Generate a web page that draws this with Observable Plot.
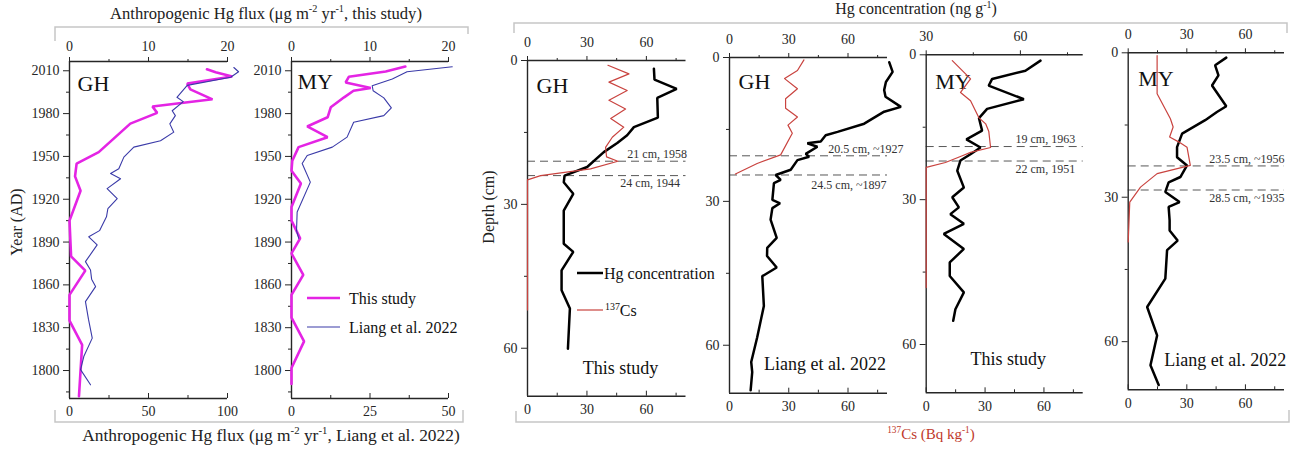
<!DOCTYPE html>
<html><head><meta charset="utf-8">
<script src="https://cdn.jsdelivr.net/npm/d3@7"></script>
<script src="https://cdn.jsdelivr.net/npm/@observablehq/plot@0.6"></script>
<style>
body{margin:0;background:#fff;}
#chart{position:relative;width:1307px;height:452px;overflow:hidden;}
#chart svg{position:absolute;left:0;top:0;overflow:visible;}
</style></head><body><div id="chart"></div>
<script>
// ---------- DATA ----------
// Anthropogenic Hg flux vs year (AD)
const ghThisYear = [2011, 2009, 2006, 2001, 1997, 1990, 1985, 1980.5, 1973, 1953, 1945, 1936, 1926, 1905, 1880, 1870, 1853, 1835, 1818, 1782];
const ghThisFlux = [17.4, 18.5, 20.6, 14.9, 15.3, 18.1, 10.5, 11.1, 7.7, 3.7, 0.9, 0.7, 1.4, 0.0, 0.2, 2.0, 0.0, 0.0, 1.6, 1.2];
const ghLiangYear = [2012.3, 2009.3, 2005.5, 1999.8, 1991.4, 1988.4, 1982, 1978.6, 1972.8, 1967, 1961, 1956.5, 1949.5, 1941.4, 1938, 1934.4, 1927.4, 1920.5, 1913.5, 1907.7, 1898, 1893.7, 1888, 1876.3, 1870.4, 1864, 1858.8, 1848.3, 1836, 1822.7, 1810, 1800.6, 1790];
const ghLiangFlux = [104, 107, 102, 74.5, 68, 72, 65, 67, 63.5, 66, 57.6, 40.7, 34.4, 31.2, 26, 32.3, 23.8, 30.2, 24.3, 23.4, 19, 12.2, 17.5, 10.1, 13.3, 14, 16.5, 10.1, 12, 14.4, 9.1, 7, 13.3];
const myThisYear = [2013, 2009.5, 2005.8, 2001.8, 1997.9, 1996, 1991.4, 1984.4, 1977.4, 1971, 1963.5, 1956.5, 1947, 1940, 1931, 1914.6, 1905, 1892.6, 1882, 1867, 1853, 1837, 1820.4, 1801.8, 1790.6];
const myThisFlux = [14.5, 12.0, 7.3, 6.9, 10.1, 7.9, 6.7, 5.0, 4.6, 2.0, 4.6, 0.9, 0.1, 0, 1.2, 0, 0, 1.1, 0, 1.5, 0, 0, 1.6, 0, 0];
const myLiangYear = [2012.8, 2009.3, 2004.2, 1999.5, 1996, 1991, 1984, 1978.6, 1974, 1963.5, 1956.5, 1950.7, 1945, 1932, 1911, 1898, 1892.6];
const myLiangFlux = [51.2, 36.8, 32.1, 25.7, 26, 29.4, 31.8, 29.4, 19.8, 17.7, 13, 5, 3.4, 6.0, 1.8, 1.6, 2.3];

// Hg concentration (ng/g) and 137Cs (Bq/kg) vs depth (cm)
const ghThisHgDepth = [1.7, 4.0, 5.9, 7.8, 11.9, 13.9, 15.6, 17.2, 19.1, 22.2, 24.0, 25.4, 27.8, 31.3, 38.2, 39.9, 43.75, 47.9, 51.7, 60.1];
const ghThisHg = [63.8, 64.1, 75.3, 65.5, 65.8, 53.7, 50.3, 45.3, 38.5, 30.1, 18.7, 18.3, 23.1, 18.3, 18.3, 23.1, 17.2, 17.2, 21.4, 20.4];
const ghThisCsDepth = [1.0, 2.8, 4.5, 6.25, 8.3, 10.1, 12.1, 13.9, 16, 18.1, 20.1, 21, 22.6, 24, 24.9, 52];
const ghThisCs = [40.6, 51.2, 41.1, 50.3, 41.1, 49.5, 42, 48.6, 42.8, 39.4, 39.9, 45.6, 31.8, 6.6, 0, 0];

const ghLiangHgDepth = [1.0, 3.0, 5.1, 6.8, 8.2, 10.3, 11.3, 13.8, 15.5, 16.2, 17.5, 17.9, 18.6, 20.1, 20.7, 21.4, 23.4, 24.5, 25.5, 26.2, 29.7, 30.4, 31.4, 33.8, 37.6, 39.7, 41.4, 43.8, 45.6, 51.8, 58.4, 63.5, 65.6, 69.4];
const ghLiangHg = [80.9, 82.6, 79.2, 78.3, 79, 86.8, 78.3, 68.2, 54.7, 48.7, 46.2, 39.4, 44.5, 38.6, 40.3, 34.4, 31, 23.4, 25.9, 22.5, 21.7, 25.6, 21.7, 20.8, 23.9, 19.1, 19, 23.9, 16.6, 17.4, 14, 11, 11.5, 10.7];
const ghLiangCsDepth = [0.5, 2.7, 4.4, 6.5, 8.6, 10.6, 12.4, 14.1, 15.8, 20.3, 22.1, 24.3];
const ghLiangCs = [37.7, 34.4, 27.9, 34.4, 28.4, 28.4, 34.4, 29.6, 31.8, 25.9, 14, 3.0];

const myThisHgDepth = [1.2, 3.3, 5.0, 6.4, 9.2, 11.2, 13.1, 15.7, 17.5, 19.2, 20.6, 21.9, 24, 27.5, 29.5, 31.6, 33, 35, 37.1, 40.2, 43, 45.8, 49.2, 52.7, 55.1];
const myThisHg = [66.4, 61.6, 51, 49.9, 61.1, 49.4, 46.8, 47.8, 42.8, 47.3, 44.1, 40.9, 39.9, 42, 38.3, 40.4, 37.7, 42, 35.6, 42, 37.5, 37.5, 42, 39.3, 38.6];
const myThisCsDepth = [1.2, 5.0, 7.8, 9.5, 13, 14.3, 15.9, 19.2, 20.2, 20.9, 22.3, 23.3, 48.2];
const myThisCs = [13.3, 22.6, 17.5, 22.6, 26.8, 30.3, 31.9, 32.8, 22.6, 18.4, 9.8, 0, 0];

const myLiangHgDepth = [1.0, 2.6, 4.7, 6.8, 11.1, 12.3, 14.0, 16.8, 19.6, 21.7, 23.4, 25.8, 26.9, 28.9, 31.0, 32.0, 34.8, 36.9, 39, 41, 46.9, 52.8, 58.7, 64.9, 69];
const myLiangHg = [50.2, 44.5, 46.2, 42.9, 50.2, 45.4, 39.4, 27.6, 25, 25, 30.1, 26.7, 20.7, 19, 26.3, 20.7, 21.2, 21.2, 25.3, 19.9, 19, 9.7, 14.8, 11.4, 15.6];
const myLiangCsDepth = [0.6, 8.5, 13.7, 15.4, 17.5, 18.5, 19.6, 23.4, 25.1, 27.9, 31, 39.3];
const myLiangCs = [14.8, 14.8, 21.6, 23, 21.2, 25.8, 30.1, 31.8, 14.8, 6.3, 0.8, 0];

// 137Cs / chronology markers (cm) and their labels
const ghThisMarks = [21, 24], ghThisMarkLabels = ["21 cm, 1958", "24 cm, 1944"];
const ghLiangMarks = [20.5, 24.5], ghLiangMarkLabels = ["20.5 cm, ~1927", "24.5 cm, ~1897"];
const myThisMarks = [19, 22], myThisMarkLabels = ["19 cm, 1963", "22 cm, 1951"];
const myLiangMarks = [23.5, 28.5], myLiangMarkLabels = ["23.5 cm, ~1956", "28.5 cm, ~1935"];

// tick values
const yearTicks = [1800, 1830, 1860, 1890, 1920, 1950, 1980, 2010];
const yearMinor = [1785, 1815, 1845, 1875, 1905, 1935, 1965, 1995];
const depthTicks = [0, 30, 60], depthMinor = [15, 45];
const concTicks = [0, 30, 60], concMinor = [15, 45, 75];

// ---------- DRAWING ----------
const W = 1307, H = 452;
const FONT = '"Liberation Serif","Times New Roman",serif';
const AX = "#262626";
const MAG = "#e424e4", BLUE = "#3a3aa8", HG = "#000", CS = "#c9433f";
const root = document.getElementById("chart");
const zipRows = (ys, vs) => ys.map((y, i) => ({y, v: vs[i]}));
const fmt = d3.format("d");

function panel(c) {
  const [l, t, r, b] = c.frame;
  const fh = b - t;
  const base = {
    width: W, height: H, marginLeft: l, marginRight: W - r, marginTop: t, marginBottom: H - b,
    style: {fontFamily: FONT, fontSize: "14px", color: AX, background: "transparent", overflow: "visible"}
  };
  const yScale = {domain: c.yDomain, reverse: !!c.reverse};
  const extra = [];
  if (c.marks) {
    c.marks.forEach((m, i) => {
      extra.push(Plot.text([m], {y: d => d, frameAnchor: "right", text: () => c.markLabels[i], textAnchor: "end",
        dx: c.markDx[i], dy: c.markDy[i], fontSize: 12, fill: "#333"}));
    });
  }
  const topPlot = Plot.plot({
    ...base,
    x: {domain: c.xTop},
    y: yScale,
    marks: [
      c.marks ? Plot.ruleY(c.marks, {y: d => d, stroke: "#444", strokeWidth: 0.9, strokeDasharray: "8,5"}) : null,
      Plot.ruleX([c.xTop[0]], {stroke: AX, strokeWidth: 1.4}),
      Plot.ruleY([c.yTopEnd], {stroke: AX, strokeWidth: 1.4}),
      Plot.axisX({anchor: "top", ticks: c.xTopTicks, tickSize: 5, tickPadding: c.topPad, tickFormat: fmt, label: null, fontSize: 14}),
      Plot.axisX({anchor: "top", ticks: c.xTopMinor, tickSize: 3, tickFormat: () => "", label: null}),
      Plot.axisY({anchor: "left", ticks: c.yTicks, tickSize: 6, tickPadding: 4, tickFormat: fmt, label: null, fontSize: 14}),
      Plot.axisY({anchor: "left", ticks: c.yMinor, tickSize: 3, tickFormat: () => "", label: null}),
      Plot.line(c.topData, {x: "v", y: "y", stroke: c.topColor, strokeWidth: c.topWidth, strokeLinejoin: "miter"}),
      Plot.text([c.name], {frameAnchor: "top-left", text: d => d, dx: c.nameDx, dy: c.nameDy, lineAnchor: "bottom", textAnchor: "start", fontSize: c.nameSize, fill: "#111"}),
      c.source ? Plot.text([c.source], {frameAnchor: "top-left", text: d => d, dx: c.sourceDx, dy: c.sourceDy, lineAnchor: "bottom", textAnchor: "middle", fontSize: 18, fill: "#111"}) : null,
      ...extra
    ].filter(Boolean)
  });
  const botPlot = Plot.plot({
    ...base,
    x: {domain: c.xBot},
    y: {...yScale, axis: null},
    marks: [
      Plot.ruleY([c.yBotEnd], {stroke: AX, strokeWidth: 1.4}),
      Plot.axisX({anchor: "bottom", ticks: c.xBotTicks, tickSize: 0, tickPadding: 8, tickFormat: fmt, label: null, fontSize: 14}),
      Plot.tickX(c.xBotTicks, {x: d => d, insetTop: fh - 5, stroke: AX}),
      Plot.tickX(c.xBotMinor, {x: d => d, insetTop: fh - 3, stroke: AX}),
      Plot.line(c.botData, {x: "v", y: "y", stroke: c.botColor, strokeWidth: c.botWidth})
    ]
  });
  root.appendChild(topPlot);
  root.appendChild(botPlot);
}

const yearPanel = {yDomain: [1780.4, 2016.5], yTopEnd: 2016.5, yBotEnd: 1780.4, yTicks: yearTicks, yMinor: yearMinor,
  xTop: [0, 20], xTopTicks: [0, 10, 20], xTopMinor: [5, 15], topPad: 6,
  topColor: MAG, topWidth: 2.6, botColor: BLUE, botWidth: 1.1, nameSize: 22};
panel({...yearPanel, frame: [69, 61, 227, 398], xBot: [0, 100], xBotTicks: [0, 50, 100], xBotMinor: [25, 75],
  topData: zipRows(ghThisYear, ghThisFlux), botData: zipRows(ghLiangYear, ghLiangFlux), name: "GH", nameDx: 8, nameDy: 29});
panel({...yearPanel, frame: [291, 61, 448, 398], xBot: [0, 50], xBotTicks: [0, 25, 50], xBotMinor: [12.5, 37.5],
  topData: zipRows(myThisYear, myThisFlux), botData: zipRows(myLiangYear, myLiangFlux), name: "MY", nameDx: 6, nameDy: 27});

const depthPanel = {yDomain: [0, 70], reverse: true, yTopEnd: 0, yBotEnd: 70, yTicks: depthTicks, yMinor: depthMinor,
  xTop: [0, 80], xTopTicks: concTicks, xTopMinor: concMinor, xBot: [0, 80], xBotTicks: concTicks, xBotMinor: concMinor,
  topPad: 9, topColor: HG, topWidth: 2.5, botColor: CS, botWidth: 1.2, nameSize: 22};
panel({...depthPanel, frame: [527, 60, 685.5, 395.7],
  topData: zipRows(ghThisHgDepth, ghThisHg), botData: zipRows(ghThisCsDepth, ghThisCs),
  marks: ghThisMarks, markLabels: ghThisMarkLabels, markDx: [1, -6], markDy: [-7, 8],
  name: "GH", nameDx: 9, nameDy: 32, source: "This study", sourceDx: 93, sourceDy: 313});
panel({...depthPanel, frame: [729, 57, 887, 392.7],
  topData: zipRows(ghLiangHgDepth, ghLiangHg), botData: zipRows(ghLiangCsDepth, ghLiangCs),
  marks: ghLiangMarks, markLabels: ghLiangMarkLabels, markDx: [16, -1], markDy: [-7, 10],
  name: "GH", nameDx: 9, nameDy: 31, source: "Liang et al. 2022", sourceDx: 95.5, sourceDy: 312});
panel({...depthPanel, frame: [925.7, 54.3, 1082.7, 392.3], xTop: [30, 80], xTopTicks: [30, 60], xTopMinor: [45, 75],
  topData: zipRows(myThisHgDepth, myThisHg), botData: zipRows(myThisCsDepth, myThisCs),
  marks: myThisMarks, markLabels: myThisMarkLabels, markDx: [-8, -8], markDy: [-7, 8],
  name: "MY", nameDx: 9, nameDy: 34, source: "This study", sourceDx: 82, sourceDy: 310});
panel({...depthPanel, frame: [1127.7, 52.3, 1284, 389.3],
  topData: zipRows(myLiangHgDepth, myLiangHg), botData: zipRows(myLiangCsDepth, myLiangCs),
  marks: myLiangMarks, markLabels: myLiangMarkLabels, markDx: [0, 0], markDy: [-7, 8],
  name: "MY", nameDx: 10, nameDy: 33, source: "Liang et al. 2022", sourceDx: 97, sourceDy: 313});

// ---------- titles, brackets, legends ----------
const ov = d3.select(root).append("svg").attr("width", W).attr("height", H)
  .style("font-family", FONT);
const GRAY = "#c6c6c6";
[
  [[55, 41], [55, 27], [468, 27], [468, 34]],
  [[55, 410], [55, 422], [463, 422], [463, 410]],
  [[514, 33], [514, 23], [1287, 23], [1287, 33]],
  [[516, 411], [516, 422], [1289, 422], [1289, 410]]
].forEach(p => ov.append("polyline").attr("points", p.map(q => q.join(",")).join(" "))
  .attr("fill", "none").attr("stroke", GRAY).attr("stroke-width", 1.5));

function rich(x, y, parts, size, fill, anchor = "middle", rotate = false) {
  const t = ov.append("text").attr("font-size", size).attr("fill", fill).attr("text-anchor", anchor);
  if (rotate) t.attr("transform", `translate(${x},${y}) rotate(-90)`);
  else t.attr("x", x).attr("y", y);
  let up = false;
  parts.forEach(([s, sup]) => {
    const sp = t.append("tspan").text(s);
    if (sup) { sp.attr("font-size", size * 0.62).attr("dy", -size * 0.4); up = true; }
    else if (up) { sp.attr("dy", size * 0.4); up = false; }
  });
  return t;
}
rich(266, 19, [["Anthropogenic Hg flux (μg m"], ["-2", 1], [" yr"], ["-1", 1], [", this study)"]], 16.6, "#222");
rich(271, 441, [["Anthropogenic Hg flux (μg m"], ["-2", 1], [" yr"], ["-1", 1], [", Liang et al. 2022)"]], 17.4, "#222");
rich(916, 14, [["Hg concentration (ng g"], ["-1", 1], [")"]], 16, "#222");
rich(931, 439, [["137", 1], ["Cs (Bq kg"], ["-1", 1], [")"]], 15, "#c0392b");
rich(22, 222, [["Year (AD)"]], 16, "#222", "middle", true);
rich(494, 207, [["Depth (cm)"]], 16, "#222", "middle", true);

// legends
function legLine(x1, x2, y, color, w) {
  ov.append("line").attr("x1", x1).attr("x2", x2).attr("y1", y).attr("y2", y).attr("stroke", color).attr("stroke-width", w);
}
legLine(307, 340, 298, MAG, 2.6);
rich(349, 304, [["This study"]], 16, "#111", "start");
legLine(307, 340, 327, BLUE, 1.1);
rich(349, 333, [["Liang et al. 2022"]], 16, "#111", "start");
legLine(577, 603, 273, HG, 2.5);
rich(604, 279, [["Hg concentration"]], 16, "#111", "start");
legLine(577, 603, 310, CS, 1.2);
rich(605, 316, [["137", 1], ["Cs"]], 16, "#111", "start");
</script></body></html>
